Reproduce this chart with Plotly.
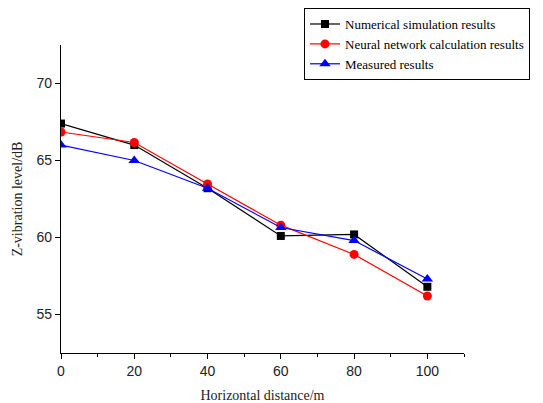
import plotly.graph_objects as go

distance = [0, 20, 40, 60, 80, 100]
numerical = [67.4, 66.0, 63.2, 60.1, 60.2, 56.8]
neural = [66.85, 66.17, 63.48, 60.8, 58.9, 56.2]
measured = [66.0, 65.0, 63.2, 60.65, 59.8, 57.3]

series = [
    ("Numerical simulation results", numerical, "black", "square", 8),
    ("Neural network calculation results", neural, "red", "circle", 9),
    ("Measured results", measured, "blue", "triangle-up", 10),
]

fig = go.Figure()
for name, vals, color, sym, size in series:
    fig.add_trace(go.Scatter(
        x=distance, y=vals, name=name, mode="lines+markers",
        line=dict(color=color, width=1.2),
        marker=dict(symbol=sym, size=size, color=color),
    ))

axis_common = dict(
    showline=True, linecolor="black", linewidth=1.2, mirror=False,
    ticks="outside", ticklen=5, tickcolor="black", tickwidth=1,
    showgrid=False, zeroline=False, automargin=False,
    tickfont=dict(family="Liberation Sans", size=14, color="#222"),
)

fig.update_xaxes(
    range=[0, 110], tickvals=[0, 20, 40, 60, 80, 100],
    minor=dict(ticks="outside", ticklen=3, tickcolor="black", dtick=10, tick0=0),
    title=dict(text="Horizontal distance/m",
               font=dict(family="Liberation Serif", size=14, color="#222"), standoff=12),
    **axis_common,
)
fig.update_yaxes(
    range=[52.5, 72.5], tickvals=[55, 60, 65, 70],
    title=dict(text="Z-vibration level/dB",
               font=dict(family="Liberation Serif", size=14, color="#222"), standoff=10),
    **axis_common,
)

fig.update_layout(
    width=543, height=403,
    margin=dict(l=61, r=79, t=45, b=50, autoexpand=False),
    plot_bgcolor="white", paper_bgcolor="white",
    legend=dict(
        x=0.603, y=1.12, xanchor="left", yanchor="top",
        bgcolor="white", bordercolor="black", borderwidth=1,
        font=dict(family="Liberation Serif", size=13, color="black"),
        itemwidth=30, tracegroupgap=0,
    ),
)

fig.write_html("out.html", config={"displayModeBar": False},
               post_script="document.body.style.margin='0';")
